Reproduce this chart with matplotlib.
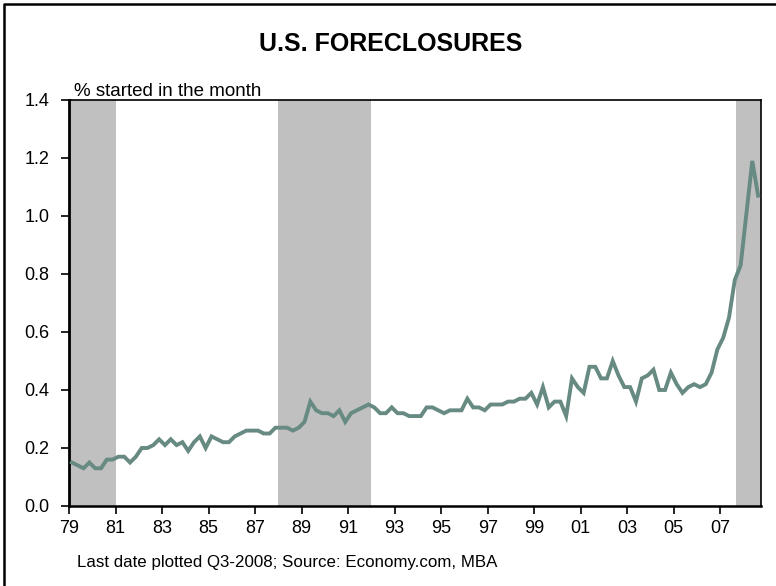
import numpy as np
import matplotlib
matplotlib.use("Agg")
import matplotlib.pyplot as plt
from matplotlib.lines import Line2D

plt.rcParams['font.family'] = ['Liberation Sans', 'DejaVu Sans']

# Quarterly foreclosure starts (% started in the quarter), 1979Q1 .. 2008Q3
years = list(range(1979, 2009))
values = [
    0.15, 0.14, 0.13, 0.15,   # 1979
    0.13, 0.13, 0.16, 0.16,   # 1980
    0.17, 0.17, 0.15, 0.17,   # 1981
    0.20, 0.20, 0.21, 0.23,   # 1982
    0.21, 0.23, 0.21, 0.22,   # 1983
    0.19, 0.22, 0.24, 0.20,   # 1984
    0.24, 0.23, 0.22, 0.22,   # 1985
    0.24, 0.25, 0.26, 0.26,   # 1986
    0.26, 0.25, 0.25, 0.27,   # 1987
    0.27, 0.27, 0.26, 0.27,   # 1988
    0.29, 0.36, 0.33, 0.32,   # 1989
    0.32, 0.31, 0.33, 0.29,   # 1990
    0.32, 0.33, 0.34, 0.35,   # 1991
    0.34, 0.32, 0.32, 0.34,   # 1992
    0.32, 0.32, 0.31, 0.31,   # 1993
    0.31, 0.34, 0.34, 0.33,   # 1994
    0.32, 0.33, 0.33, 0.33,   # 1995
    0.37, 0.34, 0.34, 0.33,   # 1996
    0.35, 0.35, 0.35, 0.36,   # 1997
    0.36, 0.37, 0.37, 0.39,   # 1998
    0.35, 0.41, 0.34, 0.36,   # 1999
    0.36, 0.31, 0.44, 0.41,   # 2000
    0.39, 0.48, 0.48, 0.44,   # 2001
    0.44, 0.50, 0.45, 0.41,   # 2002
    0.41, 0.36, 0.44, 0.45,   # 2003
    0.47, 0.40, 0.40, 0.46,   # 2004
    0.42, 0.39, 0.41, 0.42,   # 2005
    0.41, 0.42, 0.46, 0.54,   # 2006
    0.58, 0.65, 0.78, 0.83,   # 2007
    1.01, 1.19, 1.07,         # 2008 Q1-Q3
]

# Shaded periods (start, end) in decimal years
shade_start = [1979.0, 1988.0, 2007.67]
shade_end = [1981.0, 1992.0, 2008.75]

xtick_years = list(range(1979, 2008, 2))
xtick_labels = ["%02d" % (y % 100) for y in xtick_years]
yticks = [0.0, 0.2, 0.4, 0.6, 0.8, 1.0, 1.2, 1.4]

# quarter mid-points
t = np.array([years[0] + 0.125 + 0.25 * i for i in range(len(values))])

W, H = 776, 586
fig = plt.figure(figsize=(W / 100, H / 100), dpi=100)
ax = fig.add_axes([69 / W, 1 - 506 / H, (761 - 69) / W, (506 - 100) / H])

for s, e in zip(shade_start, shade_end):
    ax.axvspan(s, e, color='#C0C0C0', lw=0, zorder=1)

ax.plot(t, values, color='#678A82', lw=2.8, zorder=3, solid_joinstyle='miter')

ax.set_xlim(1979.0, 2008.75)
ax.set_ylim(0, 1.4)
ax.set_yticks(yticks)
ax.set_yticklabels(["%.1f" % v for v in yticks])
ax.set_xticks(xtick_years)
ax.set_xticklabels(xtick_labels)
ax.tick_params(axis='both', direction='out', length=6, width=1.2, color='black',
               labelsize=13, labelcolor='black')
ax.tick_params(axis='y', pad=8)
ax.tick_params(axis='x', pad=4)
for sp in ax.spines.values():
    sp.set_color('black')
    sp.set_linewidth(1.2)
ax.spines['left'].set_linewidth(2)
ax.spines['bottom'].set_linewidth(1.8)

fig.text(391 / W, 1 - 44 / H, "U.S. FORECLOSURES", ha='center', va='center',
         fontsize=18, fontweight='bold')
fig.text(74 / W, 1 - 96 / H, "% started in the month", ha='left', va='baseline',
         fontsize=13.5)
fig.text(77 / W, 1 - 563 / H, "Last date plotted Q3-2008; Source: Economy.com, MBA",
         ha='left', va='center', fontsize=12.2)

# figure border (left and top)
fig.add_artist(Line2D([4 / W, 4 / W, 1.0], [0.0, 1 - 4 / H, 1 - 4 / H],
                      transform=fig.transFigure, color='black', lw=1.8))

fig.savefig("out.png", dpi=100)
